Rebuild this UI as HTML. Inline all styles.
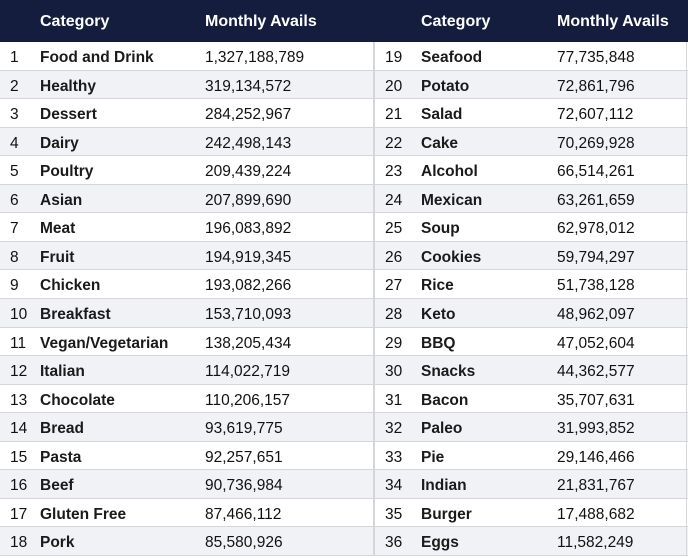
<!DOCTYPE html>
<html><head><style>
body{margin:0;width:688px;height:558px;background:#fff;font-family:"Liberation Sans",sans-serif;overflow:hidden;position:relative}
.h{position:absolute;left:0;top:0;width:688px;height:42px;background:#151d3f}
.h span{position:absolute;top:13px;color:#fff;font-weight:bold;font-size:16px}
.r{position:absolute;left:0;width:688px;border-bottom:1px solid #d4d6dc;font-size:15.5px;color:#111}
.r.g{background:#f1f2f6}
.r span{position:absolute;top:7px}
.c{font-weight:bold;color:#1a1a1a}
.v{position:absolute;left:373px;top:42px;width:2px;height:514px;background:#d4d6dc}
.rb{position:absolute;left:686px;top:42px;width:1px;height:514px;background:#d4d6dc}
</style></head><body>
<div class="h"><span style="left:40px">Category</span><span style="left:205px">Monthly Avails</span><span style="left:421px">Category</span><span style="left:557px">Monthly Avails</span></div>
<div id="t"></div>
<div class="v"></div><div class="rb"></div>
<script>
var L=[["Food and Drink","1,327,188,789"],["Healthy","319,134,572"],["Dessert","284,252,967"],["Dairy","242,498,143"],["Poultry","209,439,224"],["Asian","207,899,690"],["Meat","196,083,892"],["Fruit","194,919,345"],["Chicken","193,082,266"],["Breakfast","153,710,093"],["Vegan/Vegetarian","138,205,434"],["Italian","114,022,719"],["Chocolate","110,206,157"],["Bread","93,619,775"],["Pasta","92,257,651"],["Beef","90,736,984"],["Gluten Free","87,466,112"],["Pork","85,580,926"]];
var R=[["Seafood","77,735,848"],["Potato","72,861,796"],["Salad","72,607,112"],["Cake","70,269,928"],["Alcohol","66,514,261"],["Mexican","63,261,659"],["Soup","62,978,012"],["Cookies","59,794,297"],["Rice","51,738,128"],["Keto","48,962,097"],["BBQ","47,052,604"],["Snacks","44,362,577"],["Bacon","35,707,631"],["Paleo","31,993,852"],["Pie","29,146,466"],["Indian","21,831,767"],["Burger","17,488,682"],["Eggs","11,582,249"]];
var h="";
for(var i=0;i<18;i++){var y=Math.round(42+i*28.55),y2=Math.round(42+(i+1)*28.55);
h+='<div class="r'+(i%2?' g':'')+'" style="top:'+y+'px;height:'+(y2-y-1)+'px"><span style="left:10px">'+(i+1)+'</span><span class="c" style="left:40px">'+L[i][0]+'</span><span style="left:205px">'+L[i][1]+'</span><span style="left:385px">'+(i+19)+'</span><span class="c" style="left:421px">'+R[i][0]+'</span><span style="left:557px">'+R[i][1]+'</span></div>';}
document.getElementById("t").innerHTML=h;
</script>
</body></html>
